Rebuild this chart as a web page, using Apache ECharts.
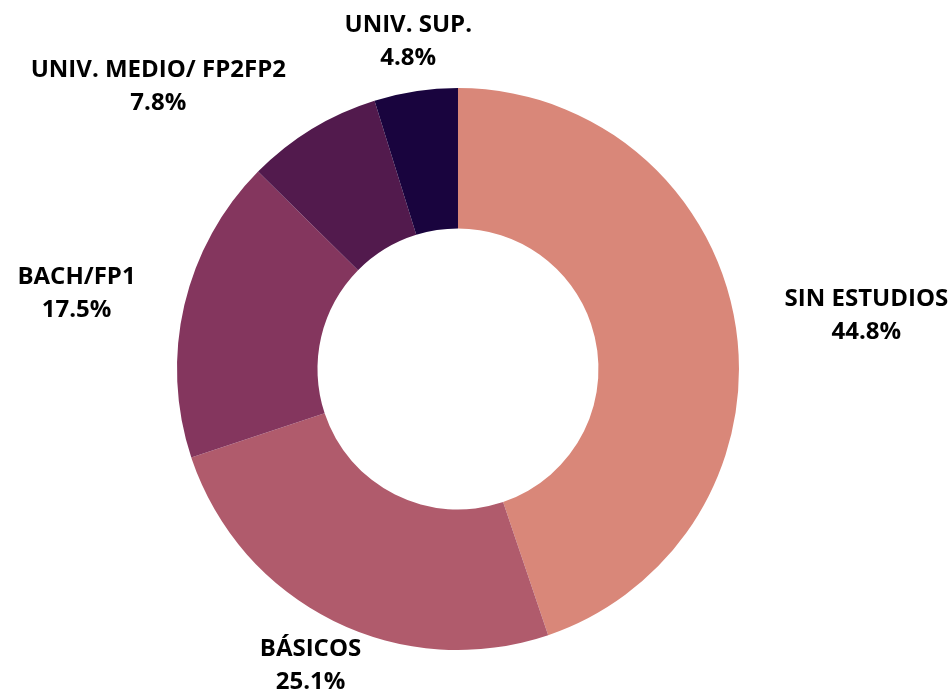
<!DOCTYPE html>
<html>
<head>
<meta charset="utf-8">
<script src="https://cdn.jsdelivr.net/npm/echarts@6/dist/echarts.min.js"></script>
<style>
  html, body { margin: 0; padding: 0; background: #ffffff; }
  #chart { width: 949px; height: 697px; }
</style>
</head>
<body>
<div id="chart"></div>
<script>
const categories = ['SIN ESTUDIOS', 'BÁSICOS', 'BACH/FP1', 'UNIV. MEDIO/ FP2FP2', 'UNIV. SUP.'];
const values = [44.8, 25.1, 17.5, 7.8, 4.8];
const colors = ['#d98779', '#b05b6c', '#84365e', '#521a4d', '#19043e'];

const chart = echarts.init(document.getElementById('chart'), null, { renderer: 'canvas' });

const option = {
  backgroundColor: '#ffffff',
  animation: false,
  series: [{
    type: 'pie',
    center: ['48.26%', '52.94%'],
    radius: [140.5, 281],
    startAngle: 90,
    clockwise: true,
    avoidLabelOverlap: false,
    data: categories.map((c, i) => ({ name: c, value: values[i], itemStyle: { color: colors[i] } })),
    itemStyle: { borderWidth: 0 },
    emphasis: { disabled: true },
    label: {
      show: true,
      position: 'outside',
      distanceToLabelLine: 0,
      formatter: p => '{n|' + p.name + '}\n{n|' + p.value.toFixed(1) + '%}',
      rich: {
        n: {
          fontFamily: 'Open Sans',
          fontWeight: 'bold',
          fontSize: 24,
          lineHeight: 33,
          color: '#000000',
          align: 'center'
        }
      }
    },
    labelLine: { show: false, length: 50, length2: 0 },
    labelLayout: function (p) {
      const lay = chart.getModel().getSeriesByIndex(0).getData().getItemLayout(p.dataIndex);
      const mid = (lay.startAngle + lay.endAngle) / 2;
      if (Math.abs(Math.cos(mid)) < 0.5) {
        return { align: 'center' };
      }
      return {};
    }
  }]
};
chart.setOption(option);
</script>
</body>
</html>
